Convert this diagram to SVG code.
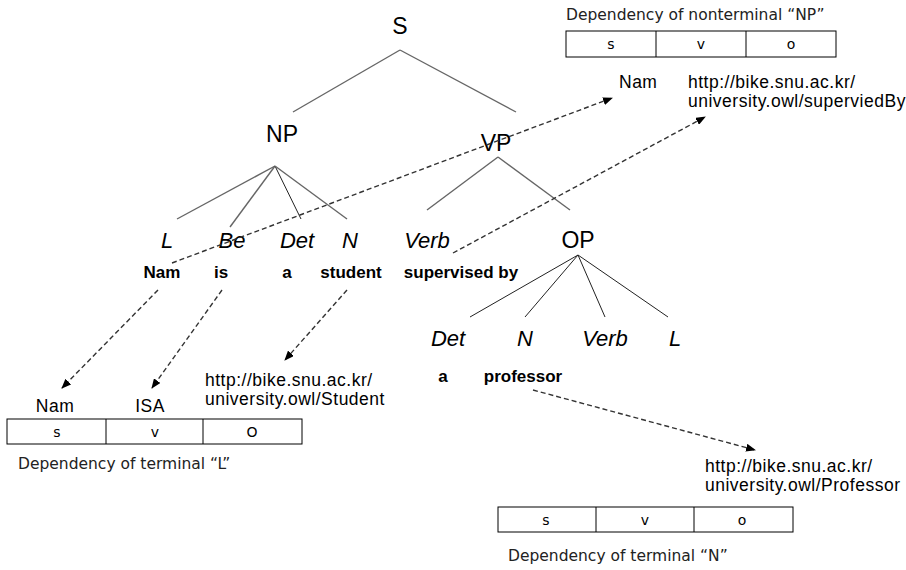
<svg xmlns="http://www.w3.org/2000/svg" width="906" height="570" viewBox="0 0 906 570">
<defs>
<marker id="ah" markerWidth="10" markerHeight="8" refX="9" refY="4" orient="auto" markerUnits="userSpaceOnUse">
<path d="M0,0 L10,4 L0,8 Z" fill="#000"/>
</marker>
<style>
.nt{font-family:"Liberation Sans",Arial,sans-serif;font-size:23px;fill:#000;text-anchor:middle}
.it{font-family:"Liberation Sans",Arial,sans-serif;font-size:22px;font-style:italic;fill:#000;text-anchor:middle}
.w{font-family:"Liberation Sans",Arial,sans-serif;font-size:17px;font-weight:bold;fill:#000;text-anchor:middle}
.u{font-family:"Liberation Sans",Arial,sans-serif;font-size:17.5px;letter-spacing:0.5px;fill:#000}
.cap{font-family:"DejaVu Sans",sans-serif;font-size:15.5px;fill:#222}
.cell{font-family:"DejaVu Sans",sans-serif;font-size:14px;fill:#000;text-anchor:middle}
.tl{stroke:#666;stroke-width:1.4;fill:none}
.tk{stroke:#222;stroke-width:1;fill:none}
.da{stroke:#333;stroke-width:1.4;stroke-dasharray:5,3;fill:none;marker-end:url(#ah)}
.box{fill:#fff;stroke:#000;stroke-width:1}
</style>
</defs>
<g id="tree-edges">
<line class="tl" x1="400" y1="50" x2="293" y2="112"/>
<line class="tl" x1="400" y1="50" x2="516" y2="112"/>
<line class="tl" x1="275" y1="166" x2="177" y2="219"/>
<line class="tl" x1="275" y1="166" x2="230" y2="227"/>
<line class="tk" x1="275" y1="166" x2="301" y2="219"/>
<line class="tl" x1="275" y1="166" x2="347" y2="219"/>
<line class="tl" x1="498" y1="157" x2="427" y2="210"/>
<line class="tl" x1="498" y1="157" x2="570" y2="210"/>
<line class="tk" x1="578" y1="255" x2="470" y2="317"/>
<line class="tk" x1="578" y1="255" x2="525" y2="317"/>
<line class="tk" x1="578" y1="255" x2="605" y2="317"/>
<line class="tk" x1="578" y1="255" x2="668" y2="317"/>
</g>
<g id="S"><text class="nt" x="400" y="34">S</text></g>
<g id="NP"><text class="nt" x="282" y="142">NP</text></g>
<g id="VP"><text class="nt" x="496" y="151">VP</text></g>
<g id="OP"><text class="nt" x="578" y="248">OP</text></g>
<g id="L1"><text class="it" x="167" y="248">L</text><text class="w" x="162" y="278">Nam</text></g>
<g id="Be"><text class="it" x="232" y="248">Be</text><text class="w" x="221" y="278">is</text></g>
<g id="Det1"><text class="it" x="297" y="248">Det</text><text class="w" x="287" y="278">a</text></g>
<g id="N1"><text class="it" x="350" y="248">N</text><text class="w" x="351" y="278">student</text></g>
<g id="Verb1"><text class="it" x="427" y="248">Verb</text><text class="w" x="461" y="278">supervised by</text></g>
<g id="Det2"><text class="it" x="448" y="346">Det</text><text class="w" x="443" y="382">a</text></g>
<g id="N2"><text class="it" x="525" y="346">N</text><text class="w" x="523" y="382">professor</text></g>
<g id="Verb2"><text class="it" x="605" y="346">Verb</text></g>
<g id="L2"><text class="it" x="675" y="346">L</text></g>

<g id="dep-NP">
<text class="cap" x="566" y="20">Dependency of nonterminal “NP”</text>
<rect class="box" x="566" y="31" width="270" height="26"/>
<line stroke="#000" x1="656" y1="31" x2="656" y2="57"/>
<line stroke="#000" x1="746" y1="31" x2="746" y2="57"/>
<text class="cell" x="611" y="49">s</text>
<text class="cell" x="701" y="49">v</text>
<text class="cell" x="791" y="49">o</text>
<text class="u" x="619" y="88">Nam</text>
<text class="u" x="688" y="88">http://bike.snu.ac.kr/</text>
<text class="u" x="688" y="107">university.owl/superviedBy</text>
</g>
<g id="dep-L">
<text class="u" x="55" y="412" text-anchor="middle">Nam</text>
<text class="u" x="150" y="412" text-anchor="middle">ISA</text>
<rect class="box" x="7" y="419" width="295" height="25"/>
<line stroke="#000" x1="106" y1="419" x2="106" y2="444"/>
<line stroke="#000" x1="203" y1="419" x2="203" y2="444"/>
<text class="cell" x="57" y="437">s</text>
<text class="cell" x="155" y="437">v</text>
<text class="cell" x="252" y="437">O</text>
<text class="cap" x="18" y="469">Dependency of terminal “L”</text>
</g>
<g id="dep-student">
<text class="u" x="205" y="386">http://bike.snu.ac.kr/</text>
<text class="u" x="205" y="405">university.owl/Student</text>
</g>
<g id="dep-N">
<text class="u" x="705" y="472">http://bike.snu.ac.kr/</text>
<text class="u" x="705" y="491">university.owl/Professor</text>
<rect class="box" x="498" y="507" width="295" height="25"/>
<line stroke="#000" x1="596" y1="507" x2="596" y2="532"/>
<line stroke="#000" x1="694" y1="507" x2="694" y2="532"/>
<text class="cell" x="546" y="525">s</text>
<text class="cell" x="645" y="525">v</text>
<text class="cell" x="742" y="525">o</text>
<text class="cap" x="508" y="561">Dependency of terminal “N”</text>
</g>
<g id="connectors">
<line class="da" x1="172" y1="263" x2="612" y2="98"/>
<line class="da" x1="453" y1="253" x2="705" y2="117"/>
<line class="da" x1="158" y1="290" x2="62" y2="388"/>
<line class="da" x1="222" y1="290" x2="152" y2="388"/>
<line class="da" x1="347" y1="290" x2="285" y2="360"/>
<line class="da" x1="533" y1="390" x2="755" y2="450"/>
</g>
</svg>
